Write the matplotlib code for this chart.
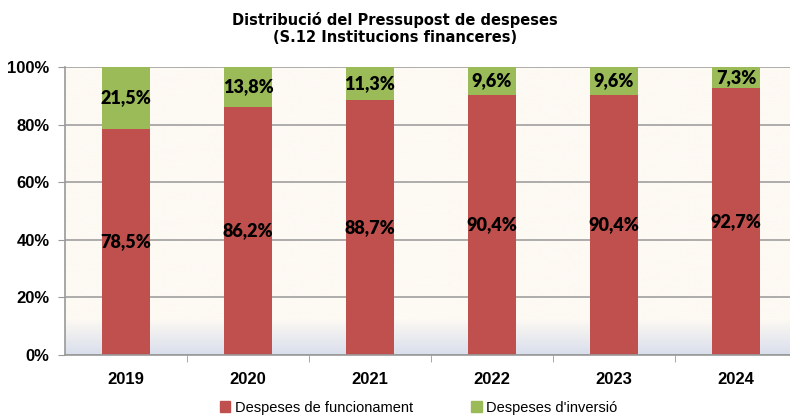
import numpy as np
import matplotlib.pyplot as plt
from matplotlib.patches import Patch

# Data
years = ['2019', '2020', '2021', '2022', '2023', '2024']
funcionament = [78.5, 86.2, 88.7, 90.4, 90.4, 92.7]
inversio = [21.5, 13.8, 11.3, 9.6, 9.6, 7.3]

red = '#C0504D'
green = '#9BBB59'

fig = plt.figure(figsize=(7.9, 4.16), dpi=100)
ax = fig.add_axes([65 / 790, 61 / 416, 732 / 790, 288 / 416])

# background: cream with a blueish fade at the bottom
grad = np.ones((100, 1, 3))
top_c = np.array([253, 249, 243]) / 255
bot_c = np.array([218, 223, 236]) / 255
for i in range(100):
    y = i / 99  # 0 top, 1 bottom
    t = max(0, (y - 0.88) / 0.12)
    grad[i, 0] = top_c * (1 - t) + bot_c * t
ax.imshow(grad, extent=[-0.5, 5.5, 0, 100], aspect='auto', zorder=0)

x = np.arange(len(years))
w = 0.4
ax.bar(x, funcionament, w, color=red, zorder=2)
ax.bar(x, inversio, w, bottom=funcionament, color=green, zorder=2)

for i in range(len(years)):
    ax.text(x[i], funcionament[i] / 2, f'{funcionament[i]:.1f}%'.replace('.', ','),
            ha='center', va='center', fontsize=13, fontweight='heavy', family='Lato')
    ax.text(x[i], funcionament[i] + inversio[i] / 2, f'{inversio[i]:.1f}%'.replace('.', ','),
            ha='center', va='center', fontsize=13, fontweight='heavy', family='Lato')

ax.set_xlim(-0.5, 5.5)
ax.set_ylim(0, 100)
ax.set_yticks([0, 20, 40, 60, 80, 100])
ax.set_yticklabels(['0%', '20%', '40%', '60%', '80%', '100%'],
                   fontsize=12, fontweight='bold', family='Liberation Sans')
ax.yaxis.grid(True, color='#A0A0A0', linewidth=1.2, zorder=1)
ax.set_axisbelow(True)

ax.set_xticks(x)
ax.set_xticklabels(years, fontsize=12, fontweight='bold', family='Liberation Sans')
ax.set_xticks(np.arange(0.5, 5.5, 1), minor=True)
ax.tick_params(axis='x', which='major', length=0, pad=12)
ax.tick_params(axis='x', which='minor', length=5, color='#999999', direction='out')
ax.tick_params(axis='y', length=5, color='#999999', pad=6)

for s in ['top', 'right']:
    ax.spines[s].set_visible(False)
for s in ['left', 'bottom']:
    ax.spines[s].set_color('#999999')
    ax.spines[s].set_linewidth(1.2)

fig.text(0.5, 0.932, 'Distribució del Pressupost de despeses\n(S.12 Institucions financeres)',
         ha='center', va='center', fontsize=10.5, fontweight='bold', family='DejaVu Sans',
         linespacing=1.2)

handles = [Patch(color=red, label='Despeses de funcionament'),
           Patch(color=green, label="Despeses d'inversió")]
fig.legend(handles=handles, loc='center', bbox_to_anchor=(0.53, 0.02), ncol=2,
           frameon=False, prop={'family': 'Liberation Sans', 'size': 10.5},
           handlelength=0.7, handleheight=0.7, handletextpad=0.3, columnspacing=4.0)

fig.savefig('out.png', dpi=100)
